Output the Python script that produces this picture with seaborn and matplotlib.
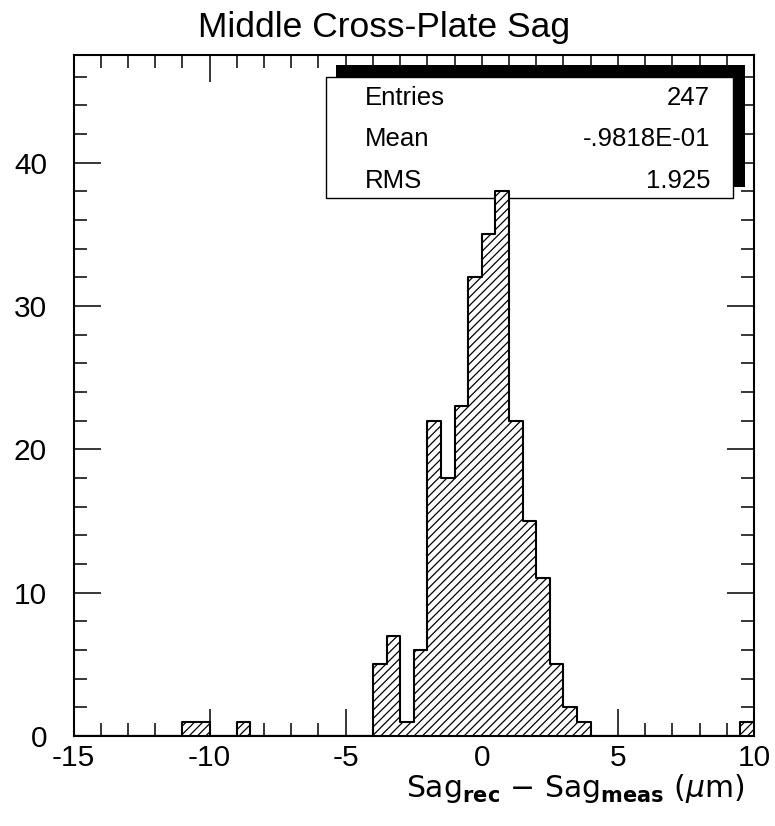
import matplotlib

matplotlib.use("Agg")

import matplotlib.pyplot as plt
import numpy as np
import pandas as pd
import seaborn as sns
from matplotlib.patches import Rectangle
from matplotlib.ticker import MultipleLocator


# histogram contents: left edge of each filled 0.5-wide bin and its count
bin_lefts = [-11.0, -10.5, -9.0, -4.0, -3.5, -3.0, -2.5, -2.0, -1.5, -1.0,
             -0.5, 0.0, 0.5, 1.0, 1.5, 2.0, 2.5, 3.0, 3.5, 9.5]
bin_counts = [1, 1, 1, 5, 7, 1, 6, 22, 18, 23,
              32, 35, 38, 22, 15, 11, 5, 2, 1, 1]
bin_width = 0.5
x_range = (-15, 10)

stat_names = ["Entries", "Mean", "RMS"]
stat_values = ["247", "-.9818E-01", "1.925"]

title_text = "Middle Cross-Plate Sag"
xlabel_text = r"Sag$_{\mathbf{rec}}$ $-$ Sag$_{\mathbf{meas}}$ ($\mu$m)"

W, H = 775, 826


def fx(px):
    return px / W


def fy(py):
    return 1 - py / H


sns.set_style("white")
plt.rcParams["font.family"] = ["Liberation Sans", "DejaVu Sans"]
plt.rcParams["hatch.linewidth"] = 0.9
plt.rcParams["axes.unicode_minus"] = False
plt.rcParams["text.color"] = "black"
plt.rcParams["xtick.color"] = "black"
plt.rcParams["ytick.color"] = "black"

fig = plt.figure(figsize=(W / 100, H / 100), dpi=100)
ax = fig.add_axes([fx(73.5), fy(736), fx(754) - fx(73.5), fy(55) - fy(736)])

df = pd.DataFrame({"center": np.array(bin_lefts) + bin_width / 2, "count": bin_counts})
sns.histplot(data=df, x="center", weights="count", binwidth=bin_width,
             binrange=x_range, element="step", fill=True, facecolor="white",
             edgecolor="black", hatch="////", linewidth=1.5, ax=ax, zorder=3)

ax.set_xlim(*x_range)
ax.set_ylim(0, 47.5)
ax.set_xlabel("")
ax.set_ylabel("")

ax.xaxis.set_major_locator(MultipleLocator(5))
ax.xaxis.set_minor_locator(MultipleLocator(1))
ax.yaxis.set_major_locator(MultipleLocator(10))
ax.yaxis.set_minor_locator(MultipleLocator(2))
ax.tick_params(which="both", direction="in", top=True, right=True,
               bottom=True, left=True, width=1.1, color="black",
               labelcolor="black")
ax.tick_params(which="major", length=19.5, labelsize=21.5)
ax.tick_params(which="minor", length=9.7)
ax.tick_params(axis="x", which="major", pad=5.5)
ax.tick_params(axis="y", which="major", pad=19)
for spine in ax.spines.values():
    spine.set_linewidth(1.5)
    spine.set_color("black")

# stats box with ROOT style shadow
ax.add_patch(Rectangle((fx(336), fy(187)), fx(745) - fx(336), fy(65) - fy(187),
                       transform=fig.transFigure, facecolor="black",
                       edgecolor="none", zorder=0.6, clip_on=False))
ax.add_patch(Rectangle((fx(326), fy(198)), fx(733) - fx(326), fy(77) - fy(198),
                       transform=fig.transFigure, facecolor="white",
                       edgecolor="black", linewidth=1.0, zorder=0.7, clip_on=False))
row_baselines = [105, 146.5, 188]
for name, value, yb in zip(stat_names, stat_values, row_baselines):
    fig.text(fx(365), fy(yb), name, ha="left", va="baseline", fontsize=18.5)
    fig.text(fx(710), fy(yb), value, ha="right", va="baseline", fontsize=18.5)

fig.text(fx(384), fy(36.7), title_text, ha="center", va="baseline", fontsize=25.5)
fig.text(fx(745), fy(797), xlabel_text, ha="right", va="baseline", fontsize=21.5,
         family=["DejaVu Sans"])

fig.savefig("out.png", dpi=100)
